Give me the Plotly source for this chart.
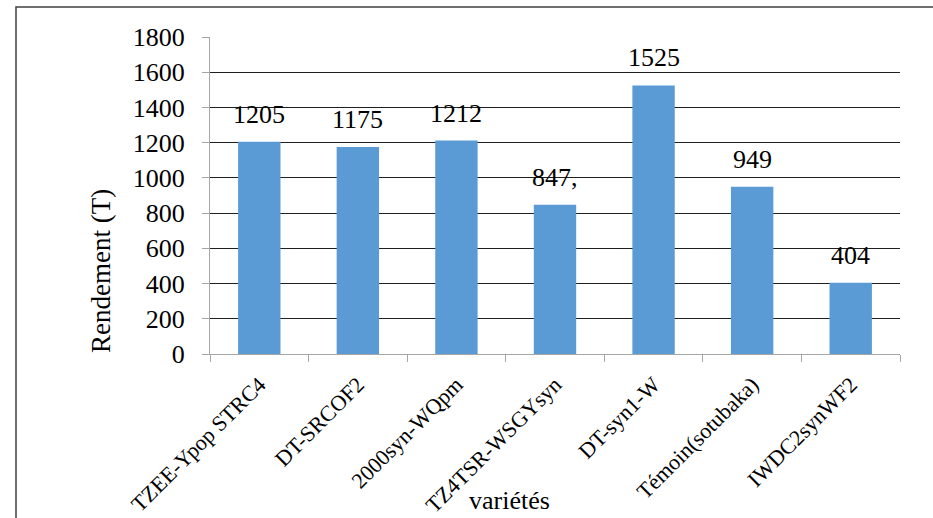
import plotly.graph_objects as go

# Varieties and their yields
varietes = ["TZEE-Ypop STRC4", "DT-SRCOF2", "2000syn-WQpm", "TZ4TSR-WSGYsyn",
            "DT-syn1-W", "Témoin(sotubaka)", "IWDC2synWF2"]
rendement = [1205, 1175, 1212, 847, 1525, 949, 404]
etiquettes = ["1205", "1175", "1212", "847,", "1525", "949", "404"]
y_ticks = [0, 200, 400, 600, 800, 1000, 1200, 1400, 1600, 1800]

W, H = 933, 518
ML, MR, MT, MB = 210, 33, 37, 164
pw, ph = W - ML - MR, H - MT - MB


def px_x(px):
    return (px - ML) / pw


def px_y(py):
    return (H - MB - py) / ph


FONT = "Liberation Serif"

fig = go.Figure(go.Bar(
    x=varietes, y=rendement,
    marker=dict(color="#5B9BD5", line=dict(width=0)),
    width=0.43,
))

for v, val, lab in zip(varietes, rendement, etiquettes):
    fig.add_annotation(x=v, y=val, text=lab, showarrow=False,
                       yanchor="bottom", yshift=11,
                       font=dict(family=FONT, size=26, color="#000"))

fig.add_annotation(xref="paper", yref="paper", x=px_x(509), y=px_y(500),
                   text="variétés", showarrow=False, xanchor="center", yanchor="middle",
                   font=dict(family=FONT, size=26, color="#000"))
fig.add_annotation(xref="paper", yref="paper", x=px_x(101), y=px_y(271),
                   text="Rendement (T)", showarrow=False, textangle=-90,
                   xanchor="center", yanchor="middle",
                   font=dict(family=FONT, size=27, color="#000"))

# outer frame
fig.add_shape(type="rect", xref="paper", yref="paper",
              x0=px_x(16), x1=px_x(945), y0=px_y(530), y1=px_y(7),
              line=dict(color="#404040", width=1.5), fillcolor="rgba(0,0,0,0)",
              layer="above")

fig.update_layout(
    width=W, height=H,
    margin=dict(l=ML, r=MR, t=MT, b=MB, autoexpand=False),
    paper_bgcolor="white", plot_bgcolor="white",
    showlegend=False,
    font=dict(family=FONT, color="#000"),
    xaxis=dict(
        type="category", tickson="boundaries", ticks="outside", ticklen=7,
        tickcolor="#A6A6A6", showline=True, linecolor="#A6A6A6", linewidth=1,
        tickangle=-45, tickfont=dict(family=FONT, size=22, color="#000"),
        ticklabelstandoff=8, showgrid=False, automargin=False,
    ),
    yaxis=dict(
        range=[0, 1800], tickvals=y_ticks, ticks="outside", ticklen=7,
        tickcolor="#A6A6A6", showline=True, linecolor="#A6A6A6", linewidth=1,
        showgrid=True, gridcolor="#1f1f1f", gridwidth=1, zeroline=False,
        tickfont=dict(family=FONT, size=26, color="#000"), ticklabelstandoff=12,
        automargin=False,
    ),
)

fig.write_html("out.html")
